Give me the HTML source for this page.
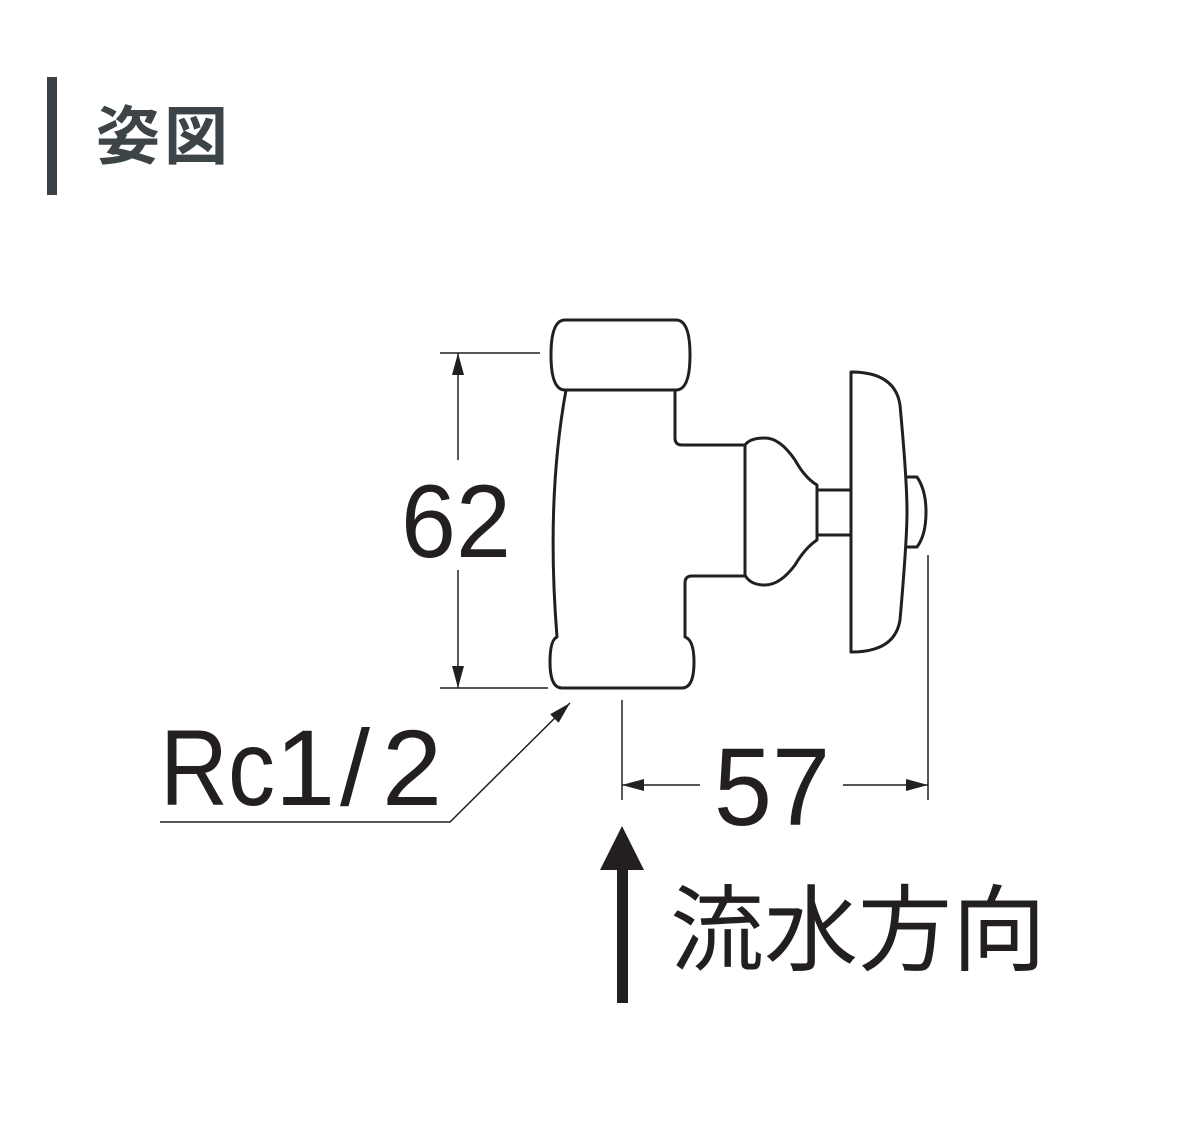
<!DOCTYPE html>
<html><head><meta charset="utf-8"><style>
html,body{margin:0;padding:0;background:#fff;}
body{width:1200px;height:1132px;position:relative;overflow:hidden;}
.bar{position:absolute;left:47px;top:77px;width:10px;height:118px;background:#3a4246;}
.title{position:absolute;left:96px;top:97px;font:bold 64px "Liberation Sans","Noto Sans CJK JP",sans-serif;color:#3d4448;letter-spacing:4px;line-height:80px;}
svg{position:absolute;left:0;top:0;}
</style></head><body>
<div class="bar"></div>
<div class="title">姿図</div>
<svg width="1200" height="1132" viewBox="0 0 1200 1132">
<defs>
<marker id="b" markerWidth="22" markerHeight="12" refX="22" refY="6" orient="auto" markerUnits="userSpaceOnUse"><path d="M0,0 L22,6 L0,12 z" fill="#231f20"/></marker>
</defs>
<g fill="none" stroke="#231f20" stroke-width="3" stroke-linejoin="round">
<path d="M565,320 H676 Q690,320 690,355 Q690,390 676,390 H565 Q551,390 551,355 Q551,320 565,320 Z"/>
<path d="M566,390 Q546,500 557,637 Q550,640 550,662 Q550,688 562,688 H682 Q694,688 694,662 Q694,640 685,637 V583 Q685,576 692,576 H745 V445 H682 Q675,445 675,438 V390"/>
<path d="M745,445 Q750,438 765,438 Q780,438 795,460 Q805,478 817,485 V540 Q805,548 795,565 Q780,585 765,585 Q750,585 745,575"/>
<path d="M817,490 H851 M817,535 H851"/>
<path d="M851,372 V652 Q895,652 900,620 Q907,540 907,512 Q907,480 900,405 Q895,372 851,372 Z"/>
<path d="M907,477 H917 Q926,490 926,512 Q926,535 917,547 H907"/>
</g>
<g stroke="#231f20" stroke-width="1.5" fill="none">
<line x1="440" y1="353" x2="540" y2="353"/>
<line x1="440" y1="688" x2="548" y2="688"/>
<line x1="458" y1="460" x2="458" y2="353" marker-end="url(#b)"/>
<line x1="458" y1="570" x2="458" y2="688" marker-end="url(#b)"/>
<line x1="622" y1="700" x2="622" y2="800"/>
<line x1="928" y1="555" x2="928" y2="800"/>
<line x1="700" y1="785" x2="622" y2="785" marker-end="url(#b)"/>
<line x1="843" y1="785" x2="928" y2="785" marker-end="url(#b)"/>
<polyline points="160,822 450,822 570,703" marker-end="url(#b)"/>
</g>
<rect x="617" y="868" width="11" height="135" fill="#231f20"/>
<path d="M600,870 L622,826 L644,870 Z" fill="#231f20"/>
<g fill="#231f20" font-family="Liberation Sans, sans-serif">
<text x="456" y="557" font-size="104" text-anchor="middle" transform="translate(456,0) scale(0.95,1) translate(-456,0)">62</text>
<text x="772" y="825" font-size="110" text-anchor="middle" transform="translate(772,0) scale(0.95,1) translate(-772,0)">57</text>
<text x="160" y="805" font-size="108" textLength="115" lengthAdjust="spacingAndGlyphs">Rc</text>
<text x="275" y="805" font-size="108">1</text>
<text x="340" y="805" font-size="108">/</text>
<text x="382" y="805" font-size="108">2</text>
<text x="670" y="963" font-size="94" font-family="Liberation Sans, Noto Sans CJK JP, sans-serif" textLength="376" lengthAdjust="spacingAndGlyphs">流水方向</text>
</g>
</svg>
</body></html>
